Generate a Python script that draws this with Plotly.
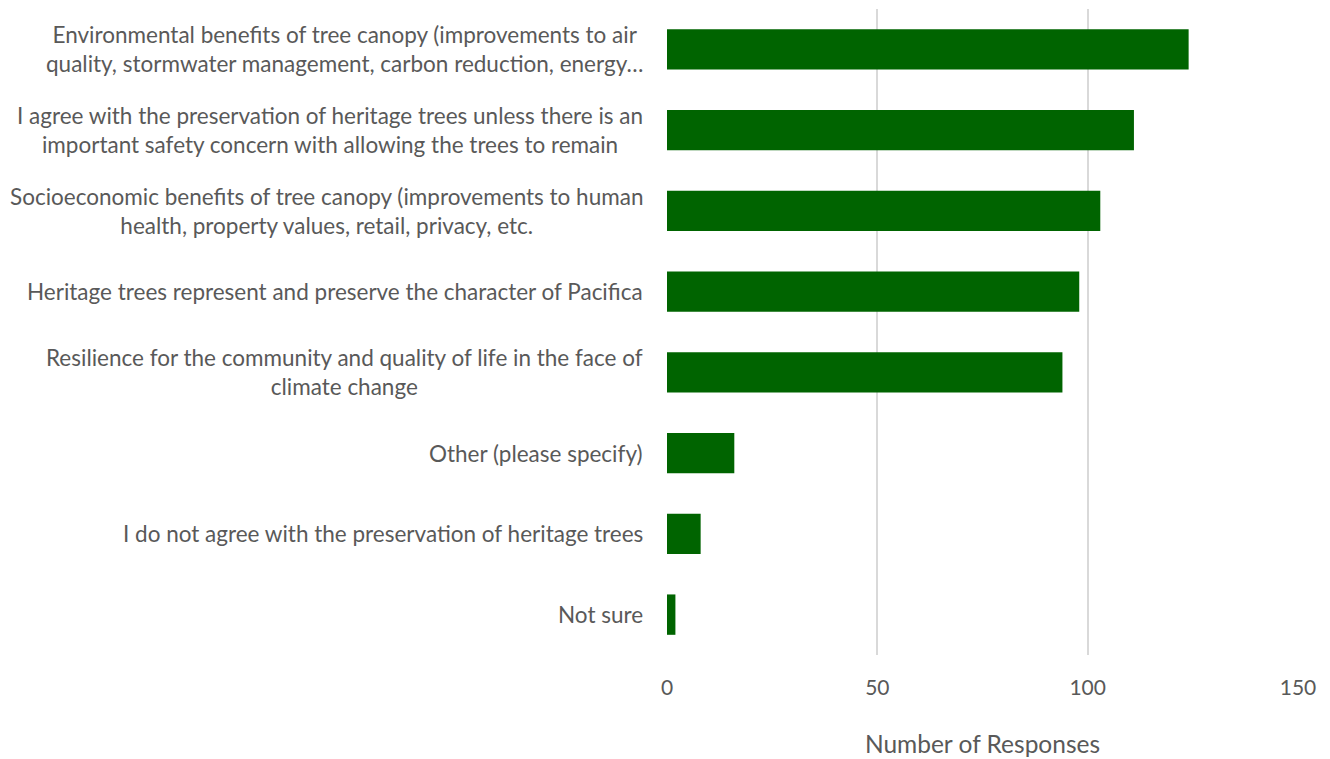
import plotly.graph_objects as go

# Survey reasons (top to bottom) and response counts
categories = [
    "Environmental benefits of tree canopy (improvements to air<br>quality, stormwater management, carbon reduction, energy…",
    "I agree with the preservation of heritage trees unless there is an<br>important safety concern with allowing the trees to remain",
    "Socioeconomic benefits of tree canopy (improvements to human<br>health, property values, retail, privacy, etc.",
    "Heritage trees represent and preserve the character of Pacifica",
    "Resilience for the community and quality of life in the face of<br>climate change",
    "Other (please specify)",
    "I do not agree with the preservation of heritage trees",
    "Not sure",
]
responses = [124, 111, 103, 98, 94, 16, 8, 2]
x_ticks = [0, 50, 100, 150]

FONT = "Lato"
TEXT_COLOR = "#595959"

fig = go.Figure(
    go.Bar(
        x=responses,
        y=list(range(len(categories))),
        orientation="h",
        marker=dict(color="#006400", line=dict(width=0)),
    )
)

# Category labels: centred lines, right-aligned block beside the axis
for i, label in enumerate(categories):
    fig.add_annotation(
        x=0, xref="paper", y=i, yref="y",
        text=label, showarrow=False,
        xanchor="right", yanchor="middle", align="center",
        xshift=-22,
        font=dict(family=FONT, size=22.5, color=TEXT_COLOR),
    )

fig.update_layout(
    width=1330, height=759,
    margin=dict(l=667, r=32, t=9, b=104),
    plot_bgcolor="white", paper_bgcolor="white",
    bargap=0.5,
    showlegend=False,
    font=dict(family=FONT, size=20, color=TEXT_COLOR),
)
fig.update_xaxes(
    range=[0, 150], tickvals=x_ticks,
    showgrid=True, gridcolor="#d9d9d9", gridwidth=2,
    zeroline=False, showline=False, automargin=False,
    ticks="", ticklabelstandoff=18,
    title=dict(text="Number of Responses", standoff=37,
               font=dict(family=FONT, size=24.5, color=TEXT_COLOR)),
    tickfont=dict(family=FONT, size=21, color=TEXT_COLOR),
)
fig.update_yaxes(
    autorange="reversed", showticklabels=False,
    showgrid=False, zeroline=False, showline=False,
)

fig.write_html("out.html")
